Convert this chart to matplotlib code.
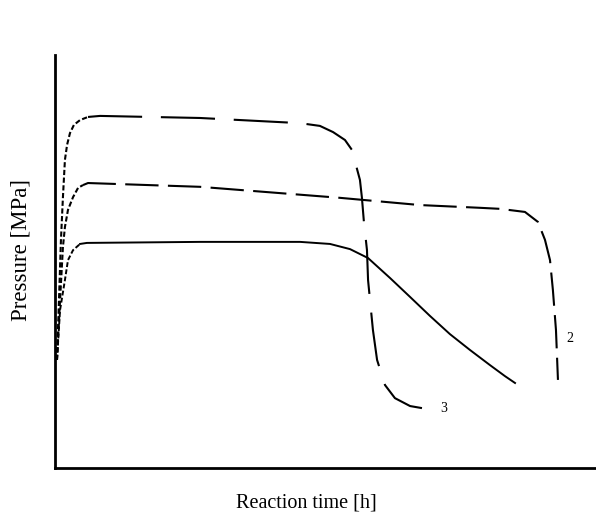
import matplotlib
matplotlib.use("Agg")
import matplotlib.pyplot as plt

# Curve "3": top curve, plateau then steep drop
t_curve3 = [0.11, 0.22, 0.33, 0.44, 0.55, 0.67, 0.83, 1.05, 1.39, 1.83, 2.50,
            8.04, 13.59, 14.69, 15.42, 16.08, 16.47, 16.69, 16.91, 17.02, 17.13, 17.30,
            17.36, 17.63, 17.86, 18.30, 18.85, 19.69, 20.35]
p_curve3 = [3.14, 4.88, 6.63, 7.87, 8.95, 9.39, 9.73, 9.97, 10.11, 10.20, 10.23,
            10.17, 10.02, 9.94, 9.76, 9.53, 9.24, 8.80, 8.37, 7.85, 7.15, 6.33,
            5.46, 4.01, 3.14, 2.41, 2.03, 1.80, 1.74]

# Curve "2": middle curve, long plateau then late drop
t_curve2 = [0.11, 0.28, 0.44, 0.55, 0.72, 1.00, 1.28, 1.55, 1.83,
            8.04, 15.80, 20.24, 23.57, 24.68, 26.06, 26.78, 27.17, 27.45, 27.61, 27.78, 27.89]
p_curve2 = [3.14, 4.88, 6.42, 7.00, 7.50, 7.87, 8.14, 8.22, 8.28,
            8.17, 7.85, 7.64, 7.56, 7.53, 7.44, 7.15, 6.63, 6.04, 5.17, 4.01, 2.56]

# Bottom curve: lower plateau then gradual decline
t_curve1 = [0.11, 0.28, 0.55, 0.72, 1.00, 1.39, 1.77,
            8.04, 13.59, 15.25, 16.36, 17.36, 18.58, 19.69, 20.79, 21.90, 23.01, 24.12, 24.95, 25.51]
p_curve1 = [3.14, 4.59, 5.46, 6.04, 6.33, 6.51, 6.54,
            6.57, 6.57, 6.51, 6.36, 6.10, 5.52, 4.97, 4.42, 3.89, 3.43, 2.99, 2.67, 2.47]

x_label = "Reaction time [h]"
y_label = "Pressure [MPa]"
curve_labels = ["2", "3"]

fig = plt.figure(figsize=(5.96, 5.15), dpi=100)
ax = fig.add_axes([55/596, 47/515, 541/596, 413/515])

def draw(t, p, rise_n, plateau_style, lw=1.5):
    # rising part with short dashes, remaining part with its own style
    ax.plot(t[:rise_n], p[:rise_n], color="black", lw=lw, linestyle=(0, (2.5, 1.2)))
    ax.plot(t[rise_n - 1:], p[rise_n - 1:], color="black", lw=lw, linestyle=plateau_style)

draw(t_curve3, p_curve3, 10, (0, (26, 9)))
draw(t_curve2, p_curve2, 8, (0, (16, 4.5)))
draw(t_curve1, p_curve1, 6, "-", lw=1.4)

ax.text(21.35, 1.74, curve_labels[1], fontsize=10, family="Liberation Serif",
        va="center", ha="left")
ax.text(28.35, 3.75, curve_labels[0], fontsize=10, family="Liberation Serif",
        va="center", ha="left")

ax.set_xlim(0, 30)
ax.set_ylim(0, 12)
ax.set_xticks([])
ax.set_yticks([])
for s in ["top", "right"]:
    ax.spines[s].set_visible(False)
ax.spines["left"].set_linewidth(2)
ax.spines["bottom"].set_linewidth(2)

fig.text(306/596, 1 - 503/515, x_label, ha="center", va="center",
         fontsize=14.5, family="Liberation Serif")
fig.text(21/596, 1 - 250/515, y_label, ha="center", va="center", rotation=90,
         fontsize=16.5, family="Liberation Serif")

fig.savefig("out.png", dpi=100)
